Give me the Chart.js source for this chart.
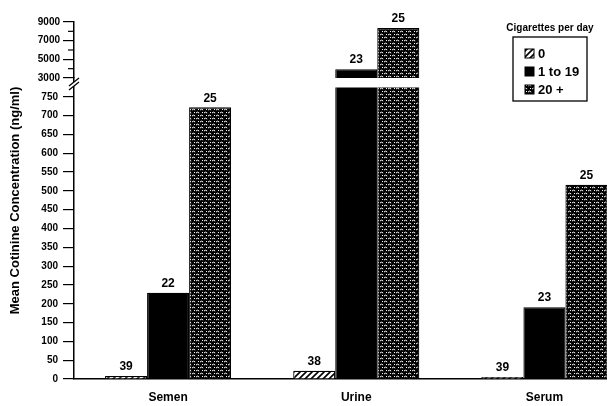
<!DOCTYPE html>
<html lang="en">
<head>
<meta charset="UTF-8">
<title>Mean Cotinine Concentration</title>
<style>
  body { margin: 0; background: #fff; overflow: hidden; }
  #wrap { width: 640px; height: 406px; }
</style>
</head>
<body>
<div id="wrap"><canvas id="chart" width="640" height="406"></canvas></div>
<script src="https://cdn.jsdelivr.net/npm/chart.js"></script>
<script>
// values (ng/ml) and group sizes printed above the bars
const categories = ['Semen', 'Urine', 'Serum'];
const seriesNames = ['0', '1 to 19', '20 +'];
const noneValues = [8, 22, 5];
const lowValues = [229, 3950, 191];
const highValues = [722, 8350, 516];
const noneN = [39, 38, 39];
const lowN = [22, 23, 23];
const highN = [25, 25, 25];

// broken y axis: lower panel 0-750, upper panel 3000-9000
const lowerTicks = [0, 50, 100, 150, 200, 250, 300, 350, 400, 450, 500, 550, 600, 650, 700, 750];
const upperTicks = [3000, 4000, 5000, 6000, 7000, 8000, 9000];
const upperLabels = [3000, 5000, 7000, 9000];
const lowerMax = 800;
const lowerCut = 775;

const FONT = "'Liberation Sans', Arial, sans-serif";
const valueSets = [noneValues, lowValues, highValues];
const counts = [noneN, lowN, highN];

function hatchPattern() {
    const c = document.createElement('canvas');
    c.width = 6; c.height = 6;
    const g = c.getContext('2d');
    g.fillStyle = '#fff';
    g.fillRect(0, 0, 6, 6);
    g.strokeStyle = '#000';
    g.lineWidth = 1.6;
    g.beginPath();
    g.moveTo(-1, 7); g.lineTo(7, -1);
    g.moveTo(-1, 1); g.lineTo(1, -1);
    g.moveTo(5, 7); g.lineTo(7, 5);
    g.stroke();
    return g.createPattern(c, 'repeat');
}

function specklePattern() {
    const c = document.createElement('canvas');
    c.width = 8; c.height = 6;
    const g = c.getContext('2d');
    g.fillStyle = '#000';
    g.fillRect(0, 0, 8, 6);
    g.strokeStyle = '#fff';
    g.lineWidth = 1;
    g.beginPath();
    g.moveTo(0, 2); g.quadraticCurveTo(1.5, 0.3, 3.2, 2);
    g.moveTo(4, 5); g.quadraticCurveTo(5.5, 3.3, 7.2, 5);
    g.stroke();
    g.fillStyle = '#fff';
    g.fillRect(6, 1, 1, 1);
    g.fillRect(2, 4, 1, 1);
    return g.createPattern(c, 'repeat');
}

const fills = [hatchPattern(), '#000', specklePattern()];

function makeSet(i, axis) {
    return {
        label: seriesNames[i],
        data: valueSets[i],
        yAxisID: axis,
        stack: 's' + i,
        backgroundColor: fills[i],
        borderColor: '#000',
        borderWidth: 1.2,
        barPercentage: 1,
        categoryPercentage: 0.67
    };
}
const datasets = [0, 1, 2].map(i => makeSet(i, 'y')).concat([0, 1, 2].map(i => makeSet(i, 'y2')));

// keep each dataset inside its own panel of the broken axis
const panelClip = {
    id: 'panelClip',
    beforeDatasetDraw(chart, args) {
        const id = args.meta.yAxisID;
        const s = chart.scales[id];
        const top = id === 'y' ? s.getPixelForValue(lowerCut) : s.top;
        const ctx = chart.ctx;
        ctx.save();
        ctx.beginPath();
        ctx.rect(chart.chartArea.left, top, chart.chartArea.width, s.bottom - top + 1);
        ctx.clip();
    },
    afterDatasetDraw(chart) {
        chart.ctx.restore();
    }
};

const extras = {
    id: 'extras',
    afterDraw(chart) {
        const ctx = chart.ctx;
        const lo = chart.scales.y, hi = chart.scales.y2;
        const ax = lo.right;
        ctx.save();
        ctx.fillStyle = '#000';
        ctx.strokeStyle = '#000';

        // group sizes over the bars
        ctx.font = 'bold 12px ' + FONT;
        ctx.textAlign = 'center';
        ctx.textBaseline = 'bottom';
        for (let i = 0; i < 3; i++) {
            valueSets[i].forEach((v, j) => {
                const bar = v > upperTicks[0] ? chart.getDatasetMeta(i + 3).data[j] : chart.getDatasetMeta(i).data[j];
                ctx.fillText(counts[i][j], bar.x, bar.y - 3);
            });
        }

        // short minor ticks on the upper panel
        ctx.lineWidth = 1.2;
        upperTicks.forEach(v => {
            if (upperLabels.includes(v)) return;
            const y = hi.getPixelForValue(v);
            ctx.beginPath(); ctx.moveTo(ax - 6, y); ctx.lineTo(ax, y); ctx.stroke();
        });

        // axis break mark
        const yb = hi.bottom + 6;
        ctx.fillStyle = '#fff';
        ctx.fillRect(ax - 3, yb - 2, 6, 4);
        ctx.lineWidth = 1.3;
        ctx.beginPath();
        ctx.moveTo(ax - 5, yb + 2); ctx.lineTo(ax + 5, yb - 6);
        ctx.moveTo(ax - 5, yb + 6); ctx.lineTo(ax + 5, yb - 2);
        ctx.stroke();

        // y axis title
        ctx.fillStyle = '#000';
        ctx.font = 'bold 13px ' + FONT;
        ctx.textBaseline = 'middle';
        ctx.translate(15, (hi.top + lo.bottom) / 2);
        ctx.rotate(-Math.PI / 2);
        ctx.fillText('Mean Cotinine Concentration (ng/ml)', 0, 0);
        ctx.setTransform(1, 0, 0, 1, 0, 0);

        // legend
        const bx = 513, by = 37, bw = 74, bh = 64;
        ctx.font = 'bold 10px ' + FONT;
        ctx.textAlign = 'center';
        ctx.textBaseline = 'bottom';
        ctx.fillText('Cigarettes per day', bx + bw / 2, by - 4);
        ctx.lineWidth = 1.3;
        ctx.strokeRect(bx, by, bw, bh);
        ctx.textAlign = 'left';
        ctx.textBaseline = 'middle';
        ctx.font = 'bold 13px ' + FONT;
        chart.data.datasets.slice(0, 3).forEach((ds, i) => {
            const y = by + 16 + i * 18;
            ctx.fillStyle = ds.backgroundColor;
            ctx.fillRect(bx + 12, y - 4, 9, 9);
            ctx.lineWidth = 1;
            ctx.strokeRect(bx + 12, y - 4, 9, 9);
            ctx.fillStyle = '#000';
            ctx.fillText(ds.label, bx + 25, y + 1);
        });
        ctx.restore();
    }
};

const tickFont = { family: FONT, size: 10, weight: 'bold' };

new Chart(document.getElementById('chart'), {
    type: 'bar',
    data: { labels: categories, datasets: datasets },
    options: {
        responsive: false,
        animation: false,
        layout: { padding: { top: 22, right: 1.5, left: 0, bottom: 0 } },
        plugins: { legend: { display: false }, tooltip: { enabled: false } },
        scales: {
            x: {
                afterFit: s => { s.height = 27; },
                grid: { display: false, drawTicks: false },
                border: { color: '#000', width: 1.5 },
                ticks: { color: '#000', padding: 11, font: { family: FONT, size: 12, weight: 'bold' } }
            },
            y: {
                position: 'left',
                stack: 'v',
                stackWeight: 301,
                min: 0,
                max: lowerMax,
                afterBuildTicks: s => { s.ticks = lowerTicks.map(v => ({ value: v })); },
                afterFit: s => { s.width = 74; },
                grid: { drawOnChartArea: false, tickLength: 11, color: '#000', lineWidth: 1.2 },
                border: { color: '#000', width: 1.5 },
                ticks: { color: '#000', padding: 5, autoSkip: false, font: tickFont }
            },
            y2: {
                position: 'left',
                stack: 'v',
                stackWeight: 56,
                min: 3000,
                max: 9000,
                afterBuildTicks: s => { s.ticks = upperTicks.map(v => ({ value: v })); },
                afterFit: s => { s.width = 74; },
                grid: {
                    drawOnChartArea: false, tickLength: 11, lineWidth: 1.2,
                    color: c => upperLabels.includes(c.tick.value) ? '#000' : 'rgba(0,0,0,0)'
                },
                border: { color: '#000', width: 1.5 },
                ticks: {
                    color: '#000', padding: 3, autoSkip: false, font: tickFont,
                    callback: v => upperLabels.includes(v) ? v : ''
                }
            }
        }
    },
    plugins: [panelClip, extras]
});
</script>
</body>
</html>
